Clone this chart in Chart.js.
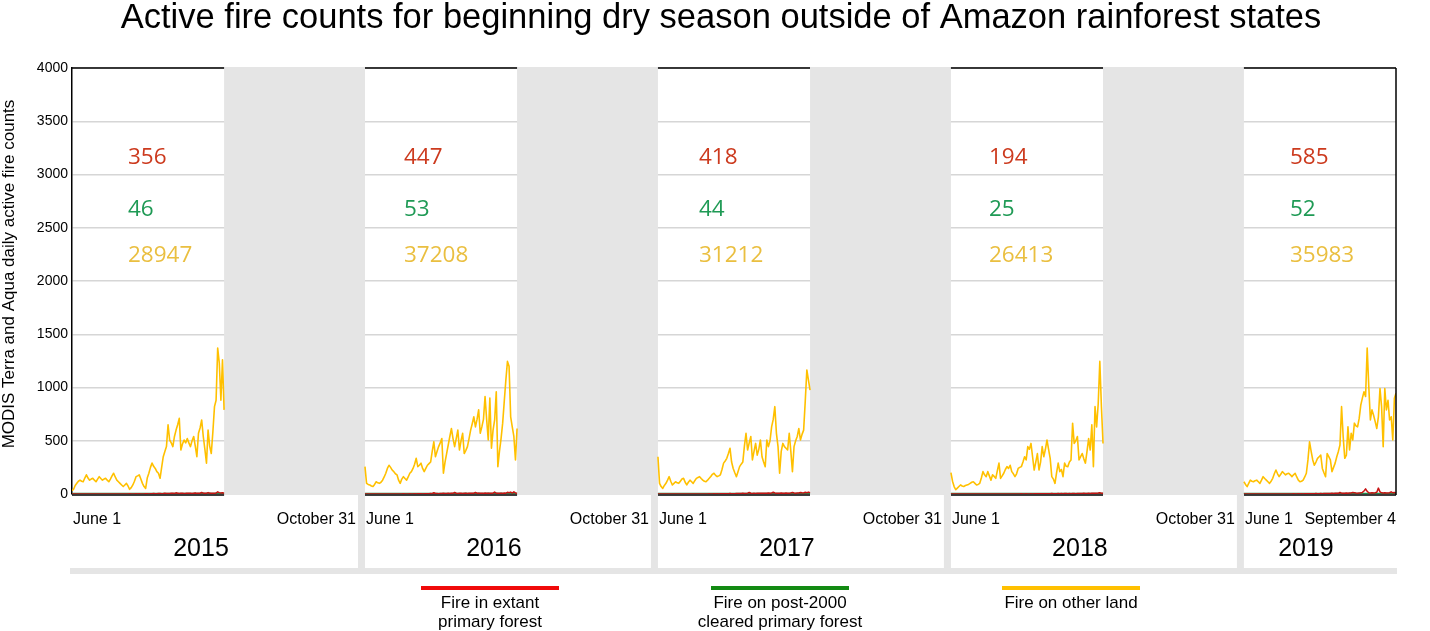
<!DOCTYPE html>
<html>
<head>
<meta charset="utf-8">
<script src="https://cdn.jsdelivr.net/npm/chart.js@4.4.0/dist/chart.umd.min.js"></script>
<style>
    html, body { margin: 0; padding: 0; background: #fff; }
    #wrap { position: relative; width: 1430px; height: 631px; }
</style>
</head>
<body>
<div id="wrap"><canvas id="fires"></canvas></div>
<script>
// years shown, one panel each
var years = ["2015", "2016", "2017", "2018", "2019"];
var startLabels = ["June 1", "June 1", "June 1", "June 1", "June 1"];
var endLabels = ["October 31", "October 31", "October 31", "October 31", "September 4"];

// season totals written in each panel
var totalsPrimary = [356, 447, 418, 194, 585];
var totalsCleared = [46, 53, 44, 25, 52];
var totalsOther = [28947, 37208, 31212, 26413, 35983];

var yTicks = [0, 500, 1000, 1500, 2000, 2500, 3000, 3500, 4000];

// daily counts June 1 - September 4 (96 days)
var other2015 = [30,45,80,100,120,130,120,115,150,180, 150,130,140,147,130,115,140,163,145,130,
    140,147,130,115,140,170,195,160,130,115, 100,85,70,85,100,75,44,60,85,120,
    163,170,180,140,100,70,53,150,195,250, 290,260,240,210,195,147,250,350,400,445,
    650,507,480,445,540,600,650,710,413,470, 507,480,520,480,445,500,540,450,350,570,
    620,695,540,420,290,600,450,380,585,820, 880,1370,1230,880,1260,790];
var other2016 = [257,100,90,85,75,70,90,115,105,100, 110,130,160,195,240,270,250,225,210,190,
    180,130,100,140,163,145,130,160,195,210, 240,280,335,257,270,290,240,210,240,270,
    285,300,400,490,350,400,445,480,520,195, 300,380,460,540,615,520,445,520,600,413,
    500,570,380,410,445,520,600,660,725,630, 700,790,570,630,700,915,700,507,900,430,
    600,695,960,257,400,520,665,870,1070,1245, 1200,725,630,540,320,615];
var other2017 = [350,100,70,53,80,100,130,163,120,85, 100,115,105,100,120,140,147,110,85,110,
    130,115,100,125,147,155,163,145,130,120, 115,130,147,165,185,195,175,163,170,180,
    230,290,310,335,380,430,300,240,200,163, 210,257,280,300,450,570,413,480,540,320,
    400,475,365,420,507,350,300,257,507,445, 500,630,700,820,570,445,195,400,475,445,
    430,413,570,400,210,445,500,540,615,507, 560,600,870,1165,1070,975];
var other2018 = [200,120,70,40,55,70,85,75,70,80, 85,90,100,110,115,100,85,90,100,150,
    210,180,163,210,170,130,180,165,147,220, 290,147,170,195,230,257,240,270,210,190,
    163,190,240,250,257,300,350,320,445,420, 475,350,225,300,380,225,300,445,350,420,
    507,420,335,163,140,100,200,290,210,230, 163,290,260,257,300,320,665,475,500,540,
    320,350,380,330,290,400,520,413,650,257, 820,630,850,1245,820,475];
var other2019 = [115,90,70,100,130,120,115,125,130,115, 100,130,163,145,130,115,100,120,147,190,
    225,190,163,185,210,195,180,190,195,180, 163,180,195,160,130,115,120,130,160,195,
    320,490,400,320,270,300,335,350,365,240, 200,163,380,350,320,210,250,290,350,400,
    460,820,540,335,365,630,413,570,507,665, 640,630,710,835,900,960,915,1370,1010,695,
    790,740,680,615,725,990,820,445,990,790, 880,695,725,507,900,945];

var primary2015 = [0,0,1,0,0,1,0,0,0,1, 0,0,1,0,0,0,1,0,0,0, 1,0,0,1,0,0,0,1,0,1,
    0,0,1,0,0,1,2,1,0,1, 2,1,2,1,0,1,3,2,1,2, 3,4,3,2,4,5,3,4,6,5,
    5,4,6,7,5,11,8,5,6,7, 5,6,8,7,6,5,7,9,6,8, 7,14,8,6,7,13,7,6,8,7, 9,20,13,9,11,7];
var primary2016 = [0,1,0,0,1,0,0,1,0,0, 1,0,1,0,0,1,0,1,0,1, 0,1,1,0,2,1,0,1,2,1,
    1,2,1,2,3,2,1,2,3,2, 3,4,3,12,5,4,3,5,4,6, 5,4,6,5,7,6,15,7,5,6,
    6,5,7,6,5,7,8,6,7,15, 7,6,8,7,6,9,8,7,6,8, 8,18,7,6,8,7,6,9,8,16, 12,18,9,20,10,8];
var primary2017 = [0,0,1,0,0,1,0,0,1,0, 0,1,0,0,1,0,0,1,0,0, 1,0,1,0,1,0,1,0,1,1,
    0,1,2,1,1,2,1,2,1,2, 2,3,2,3,2,4,3,2,3,4, 4,5,4,6,5,4,8,14,7,5,
    6,5,7,6,8,7,6,8,7,9, 8,10,16,9,8,7,8,9,7,8, 9,8,8,9,15,9,8,10,9,14, 11,10,16,12,18,12];
var primary2018 = [0,0,0,1,0,0,0,0,1,0, 0,0,1,0,0,0,0,1,0,0, 0,1,0,0,0,1,0,0,1,0,
    0,1,0,1,0,0,1,0,1,1, 1,0,1,1,2,1,1,2,1,1, 2,1,2,3,2,2,3,2,3,2,
    3,2,3,4,3,2,3,4,3,4, 3,4,5,3,4,3,5,4,3,4, 5,4,5,6,4,5,6,5,7,6, 6,7,9,12,8,6];
var primary2019 = [0,1,0,0,1,0,1,0,0,1, 0,1,0,1,0,1,0,0,1,0, 1,0,1,1,0,1,1,0,1,1,
    1,2,1,1,2,1,2,1,2,2, 3,2,3,2,3,4,3,2,4,3, 4,5,4,5,4,6,5,6,7,6,
    14,8,7,8,9,8,10,9,15,12, 9,8,10,11,15,28,48,25,12,10, 11,9,12,16,55,20,11,10,12,10, 10,12,20,11,14,10];

var cleared2015 = [0,1,0,0,1,0,0,0,1,0, 0,0,1,0,0,1,0,0,0,1, 0,0,1,0,0,0,1,0,0,1,
    0,1,0,0,1,0,1,0,0,1, 0,1,0,1,0,1,0,1,1,0, 1,0,1,0,1,1,0,1,0,1,
    1,0,1,1,0,1,0,1,1,0, 1,1,0,1,1,0,1,2,1,0, 1,1,2,0,1,1,2,1,0,1, 2,1,1,2,1,1];
var cleared2016 = [1,0,0,1,0,0,0,1,0,0, 1,0,0,0,1,0,1,0,0,1, 0,1,0,0,1,0,0,1,0,1,
    1,0,1,0,0,1,0,1,1,0, 0,1,1,0,1,0,1,1,0,1, 1,0,1,1,0,1,1,0,1,1,
    0,1,1,2,0,1,1,0,1,1, 1,2,0,1,1,1,0,2,1,1, 1,0,2,1,1,2,0,1,1,2, 1,1,2,0,1,1];
var cleared2017 = [0,0,1,0,0,0,1,0,0,0, 1,0,0,1,0,0,0,1,0,0, 1,0,0,1,0,0,1,0,0,1,
    0,0,1,0,1,0,0,1,0,1, 0,1,0,1,0,0,1,0,1,0, 1,0,1,0,1,1,0,1,0,1,
    0,1,1,0,1,0,1,1,0,1, 1,0,1,1,0,1,1,0,1,1, 0,1,1,2,0,1,1,0,1,1, 1,1,0,1,2,1];
var cleared2018 = [0,0,0,1,0,0,0,0,0,1, 0,0,0,0,1,0,0,0,0,0, 1,0,0,0,0,1,0,0,0,0,
    0,1,0,0,0,0,1,0,0,0, 1,0,0,1,0,0,0,1,0,0, 0,1,0,0,1,0,0,0,1,0,
    0,1,0,0,1,0,1,0,0,0, 1,0,0,1,0,0,1,0,0,1, 0,0,1,0,1,0,0,1,0,0, 1,0,1,0,1,0];
var cleared2019 = [0,1,0,0,1,0,1,0,0,0, 1,0,0,1,0,0,1,0,1,0, 0,1,0,0,1,0,1,0,0,1,
    0,1,0,1,0,0,1,0,1,0, 1,0,1,0,1,1,0,1,0,1, 0,1,1,0,1,0,1,1,0,1,
    1,0,1,1,0,1,1,0,1,1, 0,1,1,2,0,1,1,1,0,1, 1,2,0,1,1,1,2,0,1,1, 1,0,1,1,2,1];

var otherByYear = [other2015, other2016, other2017, other2018, other2019];
var primaryByYear = [primary2015, primary2016, primary2017, primary2018, primary2019];
var clearedByYear = [cleared2015, cleared2016, cleared2017, cleared2018, cleared2019];

// each panel is PERIOD x-units wide, the first WHITE units hold data, rest is greyed out
var PERIOD = 183;
var WHITE = 95;
var GRAY = "#e5e5e5";
var FONT = "'Liberation Sans', Arial, sans-serif";

// x offset (px) of the totals in each panel
var totalsOffset = [56, 39, 41, 38, 46];

function toPoints(series) {
    var pts = [];
    series.forEach(function (vals, i) {
        vals.forEach(function (v, d) {
            pts.push({ x: i * PERIOD + d, y: v });
        });
        pts.push({ x: i * PERIOD + vals.length, y: null });
    });
    return pts;
}

var panelPlugin = {
    id: "panels",
    beforeDatasetsDraw: function (chart) {
        var ctx = chart.ctx, a = chart.chartArea, xs = chart.scales.x;
        ctx.save();
        ctx.fillStyle = GRAY;
        for (var i = 0; i < years.length - 1; i++) {
            var x1 = xs.getPixelForValue(i * PERIOD + WHITE);
            var x2 = xs.getPixelForValue((i + 1) * PERIOD);
            ctx.fillRect(x1, a.top - 1, x2 - x1, a.bottom - a.top + 2);
        }
        ctx.restore();
    },
    afterDatasetsDraw: function (chart) {
        var ctx = chart.ctx, a = chart.chartArea, xs = chart.scales.x;
        ctx.save();
        ctx.strokeStyle = "#000";
        ctx.lineWidth = 1.5;
        for (var i = 0; i < years.length; i++) {
            var x1 = xs.getPixelForValue(i * PERIOD);
            var x2 = xs.getPixelForValue(i * PERIOD + WHITE);
            ctx.beginPath();
            ctx.moveTo(x1, a.top);
            ctx.lineTo(x2, a.top);
            ctx.moveTo(x1, a.bottom + 1);
            ctx.lineTo(x2, a.bottom + 1);
            ctx.stroke();
        }
        var xr = xs.getPixelForValue((years.length - 1) * PERIOD + WHITE);
        ctx.beginPath();
        ctx.moveTo(xr, a.top);
        ctx.lineTo(xr, a.bottom + 1);
        ctx.stroke();
        ctx.restore();
    },
    afterDraw: function (chart) {
        var ctx = chart.ctx, a = chart.chartArea, xs = chart.scales.x, ys = chart.scales.y;
        ctx.save();

        // title
        ctx.fillStyle = "#000";
        ctx.font = "34.5px " + FONT;
        ctx.textAlign = "center";
        ctx.textBaseline = "alphabetic";
        ctx.fillText("Active fire counts for beginning dry season outside of Amazon rainforest states", 721, 28);

        // y axis title
        ctx.save();
        ctx.translate(9, 274);
        ctx.rotate(-Math.PI / 2);
        ctx.font = "17px " + FONT;
        ctx.textBaseline = "middle";
        ctx.fillText("MODIS Terra and Aqua daily active fire counts", 0, 0);
        ctx.restore();

        // separators and bar under the panels
        ctx.fillStyle = GRAY;
        for (var i = 0; i < years.length - 1; i++) {
            var xs2 = xs.getPixelForValue((i + 1) * PERIOD);
            ctx.fillRect(xs2 - 7, a.bottom, 7, 74);
        }
        ctx.fillRect(70, 568, 1327, 6);

        // date labels and years
        for (var j = 0; j < years.length; j++) {
            var x0 = xs.getPixelForValue(j * PERIOD);
            var xBox = j < years.length - 1 ? xs.getPixelForValue((j + 1) * PERIOD) - 7
                : xs.getPixelForValue(j * PERIOD + WHITE);
            var xEnd = j < years.length - 1 ? xBox - 2 : xBox;
            ctx.fillStyle = "#000";
            ctx.font = "16px " + FONT;
            ctx.textBaseline = "middle";
            ctx.textAlign = "left";
            ctx.fillText(startLabels[j], x0 + 1, 520);
            ctx.textAlign = "right";
            ctx.fillText(endLabels[j], xEnd, 520);
            ctx.textAlign = "center";
            ctx.font = "25px " + FONT;
            ctx.fillText(years[j], (x0 + xBox) / 2 - 14, 549);

            // totals
            ctx.textAlign = "left";
            ctx.font = "22.5px 'Open Sans', sans-serif";
            ctx.fillStyle = "#cc3a1e";
            ctx.fillText(String(totalsPrimary[j]), x0 + totalsOffset[j], ys.getPixelForValue(3160));
            ctx.fillStyle = "#1f9a55";
            ctx.fillText(String(totalsCleared[j]), x0 + totalsOffset[j], ys.getPixelForValue(2670));
            ctx.fillStyle = "#eabf40";
            ctx.fillText(String(totalsOther[j]), x0 + totalsOffset[j], ys.getPixelForValue(2235));
        }

        // legend
        var legendItems = [
            { lines: ["Fire in extant", "primary forest"], color: "#f00a0a", cx: 490 },
            { lines: ["Fire on post-2000", "cleared primary forest"], color: "#138a13", cx: 780 },
            { lines: ["Fire on other land"], color: "#ffc000", cx: 1071 }
        ];
        legendItems.forEach(function (item) {
            ctx.fillStyle = item.color;
            ctx.fillRect(item.cx - 69, 586, 138, 4);
            ctx.fillStyle = "#000";
            ctx.font = "17px " + FONT;
            ctx.textAlign = "center";
            ctx.textBaseline = "middle";
            item.lines.forEach(function (t, k) {
                ctx.fillText(t, item.cx, 603 + k * 19);
            });
        });
        ctx.restore();
    }
};

var ctx = document.getElementById("fires").getContext("2d");
var fireChart = new Chart(ctx, {
    type: "line",
    data: {
        datasets: [
            {
                label: "Fire in extant primary forest",
                data: toPoints(primaryByYear),
                borderColor: "#c81414",
                borderWidth: 1.5
            },
            {
                label: "Fire on post-2000 cleared primary forest",
                data: toPoints(clearedByYear),
                borderColor: "#1f8f4e",
                borderWidth: 2.5
            },
            {
                label: "Fire on other land",
                data: toPoints(otherByYear),
                borderColor: "#ffc000",
                borderWidth: 1.6
            }
        ]
    },
    options: {
        responsive: true,
        maintainAspectRatio: false,
        animation: false,
        devicePixelRatio: 1,
        spanGaps: false,
        layout: { padding: { left: 0, top: 68, right: 34, bottom: 137 } },
        elements: {
            point: { radius: 0 },
            line: { tension: 0, borderJoinStyle: "round" }
        },
        plugins: {
            legend: { display: false },
            title: { display: false },
            tooltip: { enabled: false }
        },
        scales: {
            x: {
                type: "linear",
                min: 0,
                max: (years.length - 1) * PERIOD + WHITE,
                display: false
            },
            y: {
                min: 0,
                max: 4000,
                afterFit: function (scale) { scale.width = 72; },
                afterBuildTicks: function (scale) {
                    scale.ticks = yTicks.map(function (v) { return { value: v }; });
                },
                ticks: {
                    padding: 4,
                    color: "#000",
                    font: { family: FONT, size: 14 },
                    callback: function (v) { return String(v); }
                },
                grid: { color: "#d6d6d6", lineWidth: 1.5, drawTicks: false },
                border: { display: true, color: "#000", width: 1.5 }
            }
        }
    },
    plugins: [panelPlugin]
});
</script>
</body>
</html>
